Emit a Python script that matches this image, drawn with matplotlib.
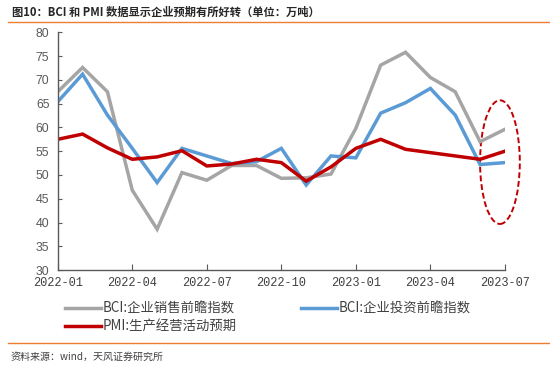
import numpy as np
import pandas as pd
import matplotlib
matplotlib.use('Agg')
import matplotlib.pyplot as plt
from matplotlib.patches import Ellipse
from matplotlib.lines import Line2D

plt.rcParams['font.family'] = ['Noto Sans CJK SC', 'DejaVu Sans']

# 数据：2022-01 至 2023-07 月度
months = pd.period_range('2022-01', '2023-07', freq='M').strftime('%Y-%m').tolist()
bci_sales = [67.5, 72.6, 67.5, 46.8, 38.6, 50.5, 48.9, 52.0, 52.0, 49.3,
             49.4, 50.2, 59.8, 73.1, 75.8, 70.5, 67.5, 57.0, 59.6]
bci_invest = [65.4, 71.2, 62.6, 55.6, 48.4, 55.6, 54.0, 52.4, 52.8, 55.6,
              47.9, 54.0, 53.6, 63.0, 65.2, 68.2, 62.6, 52.2, 52.6]
pmi_expect = [57.5, 58.6, 55.7, 53.3, 53.8, 55.1, 51.9, 52.3, 53.3, 52.6,
              48.7, 51.7, 55.6, 57.5, 55.4, 54.7, 54.0, 53.3, 55.0]
tick_labels = ['2022-01', '2022-04', '2022-07', '2022-10', '2023-01', '2023-04', '2023-07']
series_names = ['BCI:企业销售前瞻指数', 'BCI:企业投资前瞻指数', 'PMI:生产经营活动预期']

fig = plt.figure(figsize=(5.5, 3.65), dpi=100)
ax = fig.add_axes([0.105, 0.26, 0.813, 0.6515])

x = np.arange(len(months))
l1, = ax.plot(x, bci_sales, color='#a5a5a5', lw=2.5, solid_joinstyle='miter')
l2, = ax.plot(x, bci_invest, color='#5b9bd5', lw=2.5, solid_joinstyle='miter')
l3, = ax.plot(x, pmi_expect, color='#c00000', lw=2.5, solid_joinstyle='miter')

# 红色虚线椭圆标注
ax.add_patch(Ellipse((17.8, 52.7), 1.6, 26, fill=False, ec='#c00000',
                     ls=(0, (3, 1.5)), lw=1.4, clip_on=False))

ax.set_xlim(0, 18)
ax.set_ylim(30, 80)
ax.set_yticks(np.arange(30, 81, 5))
ax.set_xticks([months.index(t) for t in tick_labels])
ax.set_xticklabels(tick_labels, family='Liberation Mono', fontsize=8.6)
ax.tick_params(axis='y', direction='in', length=3, color='#595959',
               labelcolor='#595959', labelsize=8.8, pad=6)
ax.tick_params(axis='x', direction='in', length=4, color='#595959',
               labelcolor='#404040', pad=5)
for lab in ax.get_yticklabels():
    lab.set_family('Liberation Sans')
for s in ['top', 'right']:
    ax.spines[s].set_visible(False)
for s in ['left', 'bottom']:
    ax.spines[s].set_color('#595959')
    ax.spines[s].set_linewidth(1.0)

# 图例（按行：销售、投资 / PMI）
leg = fig.legend([l1, l3, l2], [series_names[0], series_names[2], series_names[1]],
                 loc='upper left', bbox_to_anchor=(0.108, 0.188), ncol=2,
                 frameon=False, fontsize=9.6, handlelength=2.7, handletextpad=0.15,
                 columnspacing=4.8, labelspacing=0.3, borderaxespad=0)
for t in leg.get_texts():
    t.set_color('#404040')

# 标题与来源
fig.text(0.022, 0.967, '图10：BCI 和 PMI 数据显示企业预期有所好转（单位：万吨）',
         fontsize=8.1, fontweight='bold', color='#262626', va='center')
fig.add_artist(Line2D([0.015, 1.0], [0.94, 0.94], color='#ed7d31', lw=1.0))
fig.add_artist(Line2D([0.015, 1.0], [0.061, 0.061], color='#ed7d31', lw=1.0))
fig.text(0.02, 0.022, '资料来源：wind，天风证券研究所', fontsize=7.2,
         color='#404040', va='center')

fig.savefig('out.png', dpi=100)
